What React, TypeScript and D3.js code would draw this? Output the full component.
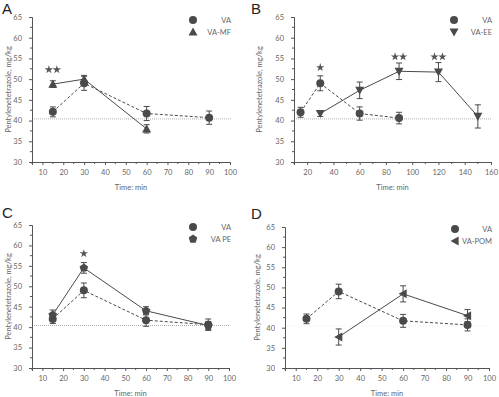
import React, { useRef, useEffect } from "react";
import * as d3 from "d3";

// sampling times (min) and group means / SEM
const vaTimes = [15, 30, 60, 90];
const vaMeansA = [42.1, 49.0, 41.7, 40.7];
const vaErrA = [1.2, 1.7, 1.7, 1.6];
const vaMeansB = [42.0, 49.0, 41.7, 40.6];
const vaErrB = [1.2, 1.8, 1.6, 1.4];
const vaMeansC = [42.0, 49.0, 41.7, 40.6];
const vaErrC = [1.1, 1.8, 1.5, 1.4];
const vaMeansD = [42.2, 49.0, 41.7, 40.7];
const vaErrD = [1.2, 1.8, 1.6, 1.5];

const mfTimes = [15, 30, 60];
const mfMeans = [48.8, 50.0, 38.0];
const mfErr = [0.8, 0.9, 1.0];

const eeTimes = [30, 60, 90, 120, 150];
const eeMeans = [41.7, 47.3, 51.9, 51.7, 41.0];
const eeErr = [0.7, 2.0, 2.0, 2.3, 2.8];

const peTimes = [15, 30, 60, 90];
const peMeans = [43.0, 54.5, 44.0, 40.4];
const peErr = [1.2, 1.3, 1.0, 1.0];

const pomTimes = [30, 60, 90];
const pomMeans = [37.7, 48.4, 43.0];
const pomErr = [2.0, 2.0, 1.5];

const yTicks = [30, 35, 40, 45, 50, 55, 60, 65];
const xTicks100 = [10, 20, 30, 40, 50, 60, 70, 80, 90, 100];
const xTicks160 = [20, 40, 60, 80, 100, 120, 140, 160];

const yTitle = "Pentylenetetrazole, mg/kg";
const xTitle = "Time: min";

const textColor = "#666";
const markColor = "#4a4a4a";
const font = "Lato, 'Open Sans', sans-serif";
const fs = 7.5;

const panels = [
  {
    letter: "A", lx: 2, ly: 14,
    xRange: [32, 230], yRange: [162, 17], xDomain: [5, 100],
    ticks: xTicks100, minorStep: 5,
    va: { t: vaTimes, m: vaMeansA, e: vaErrA },
    tr: { t: mfTimes, m: mfMeans, e: mfErr },
    label: "VA-MF", shape: "up",
    stars: [{ t: 15, v: 52.3, n: 2 }],
    refColor: "#999",
    legX: 193, legY: 20, legEnd: 231, titleX: 8,
  },
  {
    letter: "B", lx: 251, ly: 14,
    xRange: [294, 491], yRange: [162, 17], xDomain: [10, 160],
    ticks: xTicks160, minorStep: 10,
    va: { t: vaTimes, m: vaMeansB, e: vaErrB },
    tr: { t: eeTimes, m: eeMeans, e: eeErr },
    label: "VA-EE", shape: "down",
    stars: [
      { t: 30, v: 52.8, n: 1 },
      { t: 90, v: 55.4, n: 2 },
      { t: 120, v: 55.4, n: 2 },
    ],
    refColor: "#999",
    legX: 454, legY: 20, legEnd: 492, titleX: 259,
  },
  {
    letter: "C", lx: 2, ly: 218,
    xRange: [32, 229], yRange: [368, 225], xDomain: [5, 100],
    ticks: xTicks100, minorStep: 5,
    va: { t: vaTimes, m: vaMeansC, e: vaErrC },
    tr: { t: peTimes, m: peMeans, e: peErr },
    label: "VA PE", shape: "pent",
    stars: [{ t: 30, v: 58.0, n: 1 }],
    refColor: "#999",
    legX: 193, legY: 227, legEnd: 231, titleX: 8,
  },
  {
    letter: "D", lx: 251, ly: 219,
    xRange: [285, 489], yRange: [368, 227], xDomain: [5, 100],
    ticks: xTicks100, minorStep: 5,
    va: { t: vaTimes, m: vaMeansD, e: vaErrD },
    tr: { t: pomTimes, m: pomMeans, e: pomErr },
    label: "VA-POM", shape: "left",
    stars: [],
    refColor: "#eee",
    legX: 455, legY: 229, legEnd: 492, titleX: 257,
  },
];

function shapePath(shape, r) {
  if (shape === "up") return `M0,${-r}L${r},${r * 0.8}L${-r},${r * 0.8}Z`;
  if (shape === "down") return `M0,${r}L${r},${-r * 0.8}L${-r},${-r * 0.8}Z`;
  if (shape === "left") return `M${-r},0L${r * 0.8},${-r}L${r * 0.8},${r}Z`;
  // pentagon
  const pts = d3.range(5).map((i) => {
    const a = -Math.PI / 2 + (i * 2 * Math.PI) / 5;
    return [Math.cos(a) * r, Math.sin(a) * r];
  });
  return "M" + pts.map((p) => p.join(",")).join("L") + "Z";
}

const starPath = d3.symbol(d3.symbolStar, 22)();

const App = () => {
  const ref = useRef(null);

  useEffect(() => {
    const svg = d3.select(ref.current);
    svg.selectAll("*").remove();

    panels.forEach((p) => {
      const x = d3.scaleLinear().domain(p.xDomain).range(p.xRange);
      const y = d3.scaleLinear().domain([30, 65]).range(p.yRange);
      const g = svg.append("g");

      g.append("text")
        .attr("x", p.lx).attr("y", p.ly)
        .attr("font-family", "'Liberation Sans', Arial, sans-serif")
        .attr("font-size", 15).attr("fill", "#222")
        .text(p.letter);

      // reference line at baseline threshold
      g.append("line")
        .attr("x1", p.xRange[0]).attr("x2", p.xRange[1] + 1)
        .attr("y1", y(40.4)).attr("y2", y(40.4))
        .attr("stroke", p.refColor).attr("stroke-width", 0.8)
        .attr("stroke-dasharray", "1,1");

      // y axis
      const yAxis = d3.axisLeft(y).tickValues(yTicks).tickSize(3).tickPadding(7);
      g.append("g")
        .attr("transform", `translate(${p.xRange[0]},0)`)
        .call(yAxis)
        .call((a) => a.select(".domain").attr("stroke", "#555"))
        .call((a) => a.selectAll(".tick line").attr("stroke", "#555"))
        .call((a) =>
          a.selectAll("text").attr("fill", textColor).attr("font-size", fs).attr("font-family", font)
        );
      const yMinor = d3.range(30, 65.01, 2.5).filter((v) => v % 5 !== 0);
      g.selectAll(".ym").data(yMinor).enter().append("line")
        .attr("x1", p.xRange[0] - 2).attr("x2", p.xRange[0])
        .attr("y1", (d) => y(d)).attr("y2", (d) => y(d))
        .attr("stroke", "#555");

      // x axis
      const xAxis = d3.axisBottom(x).tickValues(p.ticks).tickSize(3).tickPadding(5);
      g.append("g")
        .attr("transform", `translate(0,${p.yRange[0]})`)
        .call(xAxis)
        .call((a) => a.select(".domain").attr("stroke", "#555"))
        .call((a) => a.selectAll(".tick line").attr("stroke", "#555"))
        .call((a) =>
          a.selectAll("text").attr("fill", textColor).attr("font-size", fs).attr("font-family", font)
        );
      const xMinor = d3.range(p.xDomain[0], p.xDomain[1] + 0.01, p.minorStep)
        .filter((v) => !p.ticks.includes(v));
      g.selectAll(".xm").data(xMinor).enter().append("line")
        .attr("x1", (d) => x(d)).attr("x2", (d) => x(d))
        .attr("y1", p.yRange[0]).attr("y2", p.yRange[0] + 2)
        .attr("stroke", "#555");

      // titles
      g.append("text")
        .attr("x", (p.xRange[0] + p.xRange[1]) / 2).attr("y", p.yRange[0] + 28)
        .attr("text-anchor", "middle").attr("fill", textColor)
        .attr("font-size", fs).attr("font-family", font)
        .text(xTitle);
      g.append("text")
        .attr("transform", `translate(${p.titleX + 3},${(p.yRange[0] + p.yRange[1]) / 2}) rotate(-90)`)
        .attr("text-anchor", "middle").attr("fill", textColor)
        .attr("font-size", fs).attr("font-family", font)
        .text(yTitle);

      const series = [
        { d: p.va, dash: "3,2", shape: "circle" },
        { d: p.tr, dash: null, shape: p.shape },
      ];

      series.forEach((s) => {
        const pts = s.d.t.map((t, i) => ({ t, m: s.d.m[i], e: s.d.e[i] }));
        const line = d3.line().x((d) => x(d.t)).y((d) => y(d.m));
        g.append("path")
          .attr("d", line(pts))
          .attr("fill", "none").attr("stroke", markColor).attr("stroke-width", 1)
          .attr("stroke-dasharray", s.dash);
        const eb = g.selectAll(null).data(pts).enter().append("g").attr("stroke", markColor).attr("stroke-width", 1);
        eb.append("line")
          .attr("x1", (d) => x(d.t)).attr("x2", (d) => x(d.t))
          .attr("y1", (d) => y(d.m - d.e)).attr("y2", (d) => y(d.m + d.e));
        [1, -1].forEach((sg) => {
          eb.append("line")
            .attr("x1", (d) => x(d.t) - 3).attr("x2", (d) => x(d.t) + 3)
            .attr("y1", (d) => y(d.m + sg * d.e)).attr("y2", (d) => y(d.m + sg * d.e));
        });
        if (s.shape === "circle") {
          g.selectAll(null).data(pts).enter().append("circle")
            .attr("cx", (d) => x(d.t)).attr("cy", (d) => y(d.m)).attr("r", 4)
            .attr("fill", markColor);
        } else {
          g.selectAll(null).data(pts).enter().append("path")
            .attr("transform", (d) => `translate(${x(d.t)},${y(d.m)})`)
            .attr("d", shapePath(s.shape, 4.5))
            .attr("fill", markColor);
        }
      });

      // significance stars
      p.stars.forEach((st) => {
        const offs = st.n === 2 ? [-4, 4] : [0];
        offs.forEach((o) => {
          g.append("path")
            .attr("transform", `translate(${x(st.t) + o},${y(st.v)})`)
            .attr("d", starPath)
            .attr("fill", "#555");
        });
      });

      // legend
      const leg = [
        { name: "VA", shape: "circle" },
        { name: p.label, shape: p.shape },
      ];
      leg.forEach((l, i) => {
        const cy = p.legY + i * 12;
        if (l.shape === "circle") {
          g.append("circle").attr("cx", p.legX).attr("cy", cy).attr("r", 4).attr("fill", markColor);
        } else {
          g.append("path")
            .attr("transform", `translate(${p.legX},${cy})`)
            .attr("d", shapePath(l.shape, 4.5)).attr("fill", markColor);
        }
        g.append("text")
          .attr("x", p.legEnd).attr("y", cy + 3)
          .attr("text-anchor", "end").attr("fill", textColor)
          .attr("font-size", fs).attr("font-family", font)
          .text(l.name);
      });
    });
  });

  return (
    <svg
      ref={ref}
      width={499}
      height={397}
      style={{ position: "absolute", left: 0, top: 0, background: "#fff" }}
    ></svg>
  );
};

export default App;
